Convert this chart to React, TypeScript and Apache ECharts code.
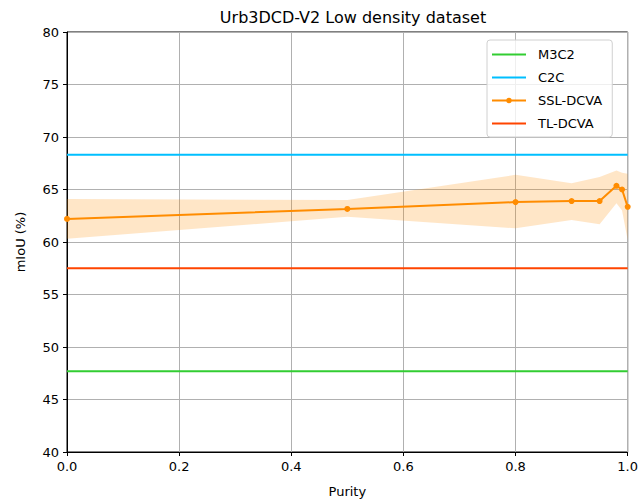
import React, { useEffect, useRef } from "react";
import * as echarts from "echarts";

const purity = [0.0, 0.5, 0.8, 0.9, 0.95, 0.98, 0.99, 1.0];
const sslMean = [62.2, 63.15, 63.8, 63.9, 63.9, 65.35, 65.0, 63.35];
const sslUpper = [64.1, 64.0, 66.4, 65.6, 66.2, 66.8, 66.6, 66.5];
const sslLower = [60.3, 62.4, 61.3, 62.1, 61.7, 63.7, 63.0, 60.2];
const m3c2 = 47.7;
const c2c = 68.3;
const tlDcva = 57.5;

const FONT = "DejaVu Sans";
const LINE_ICON = "path://M0,3H34V5H0Z";
const LINE_DOT_ICON = "path://M0,3.1H34V4.9H0Z M14.3,4a2.7,2.7 0 1,1 5.4,0a2.7,2.7 0 1,1 -5.4,0Z";

export default function App() {
  const ref = useRef<HTMLDivElement>(null);
  useEffect(() => {
    if (!ref.current) return;
    const chart = echarts.init(ref.current, undefined, { renderer: "svg" });
    const hline = (name: string, v: number, color: string) => ({
      name,
      type: "line",
      data: [[0, v], [1, v]],
      symbol: "none",
      lineStyle: { color, width: 2 },
      itemStyle: { color },
      z: 3,
    });
    chart.setOption({
      animation: false,
      textStyle: { fontFamily: FONT },
      title: {
        text: "Urb3DCD-V2 Low density dataset",
        left: 348,
        top: 4,
        textAlign: "center",
        textStyle: { fontFamily: FONT, fontSize: 16, fontWeight: "normal", color: "#000" },
      },
      grid: {
        left: 67,
        right: 12,
        top: 32,
        bottom: 52,
        show: true,
        borderColor: "#000",
        borderWidth: 1,
      },
      legend: {
        orient: "vertical",
        left: 487,
        top: 40,
        itemWidth: 34,
        itemHeight: 8,
        itemGap: 10,
        padding: [8, 10, 7, 5],
        backgroundColor: "rgba(255,255,255,0.8)",
        borderColor: "#d0d0d0",
        borderWidth: 1,
        borderRadius: 3,
        textStyle: { fontFamily: FONT, fontSize: 13, color: "#000", padding: [0, 0, 0, 7] },
        data: [
          { name: "M3C2", icon: LINE_ICON },
          { name: "C2C", icon: LINE_ICON },
          { name: "SSL-DCVA", icon: LINE_DOT_ICON },
          { name: "TL-DCVA", icon: LINE_ICON },
        ],
      },
      xAxis: {
        type: "value",
        min: 0,
        max: 1,
        interval: 0.2,
        name: "Purity",
        nameLocation: "middle",
        nameGap: 33,
        nameTextStyle: { fontFamily: FONT, fontSize: 13, color: "#000" },
        axisLine: { show: true, lineStyle: { color: "#000" } },
        axisTick: { show: true, length: 4, lineStyle: { color: "#000" } },
        axisLabel: {
          fontFamily: FONT,
          fontSize: 13,
          color: "#000",
          formatter: (v: number) => v.toFixed(1),
        },
        splitLine: { show: true, lineStyle: { color: "#b0b0b0", width: 1 } },
      },
      yAxis: {
        type: "value",
        min: 40,
        max: 80,
        interval: 5,
        name: "mIoU (%)",
        nameLocation: "middle",
        nameGap: 40,
        nameTextStyle: { fontFamily: FONT, fontSize: 13, color: "#000" },
        axisLine: { show: true, lineStyle: { color: "#000" } },
        axisTick: { show: true, length: 4, lineStyle: { color: "#000" } },
        axisLabel: { fontFamily: FONT, fontSize: 13, color: "#000" },
        splitLine: { show: true, lineStyle: { color: "#b0b0b0", width: 1 } },
      },
      series: [
        {
          name: "band",
          type: "custom",
          data: [[0]],
          z: 1,
          clip: true,
          renderItem: (_params: any, api: any) => {
            const pts: number[][] = [];
            for (let i = 0; i < purity.length; i++) pts.push(api.coord([purity[i], sslUpper[i]]));
            for (let i = purity.length - 1; i >= 0; i--) pts.push(api.coord([purity[i], sslLower[i]]));
            return {
              type: "polygon",
              shape: { points: pts },
              style: { fill: "rgba(255,140,0,0.22)", stroke: "none" },
            };
          },
          silent: true,
        },
        hline("M3C2", m3c2, "#32cd32"),
        hline("C2C", c2c, "#00bfff"),
        {
          name: "SSL-DCVA",
          type: "line",
          data: purity.map((x, i) => [x, sslMean[i]]),
          symbol: "circle",
          symbolSize: 6,
          showSymbol: true,
          lineStyle: { color: "#ff8c00", width: 2 },
          itemStyle: { color: "#ff8c00" },
          z: 4,
        },
        hline("TL-DCVA", tlDcva, "#ff4500"),
      ],
    });
    return () => chart.dispose();
  }, []);
  return (
    <div
      ref={ref}
      style={{ position: "fixed", left: 0, top: 0, width: 641, height: 504, background: "#fff" }}
    />
  );
}
